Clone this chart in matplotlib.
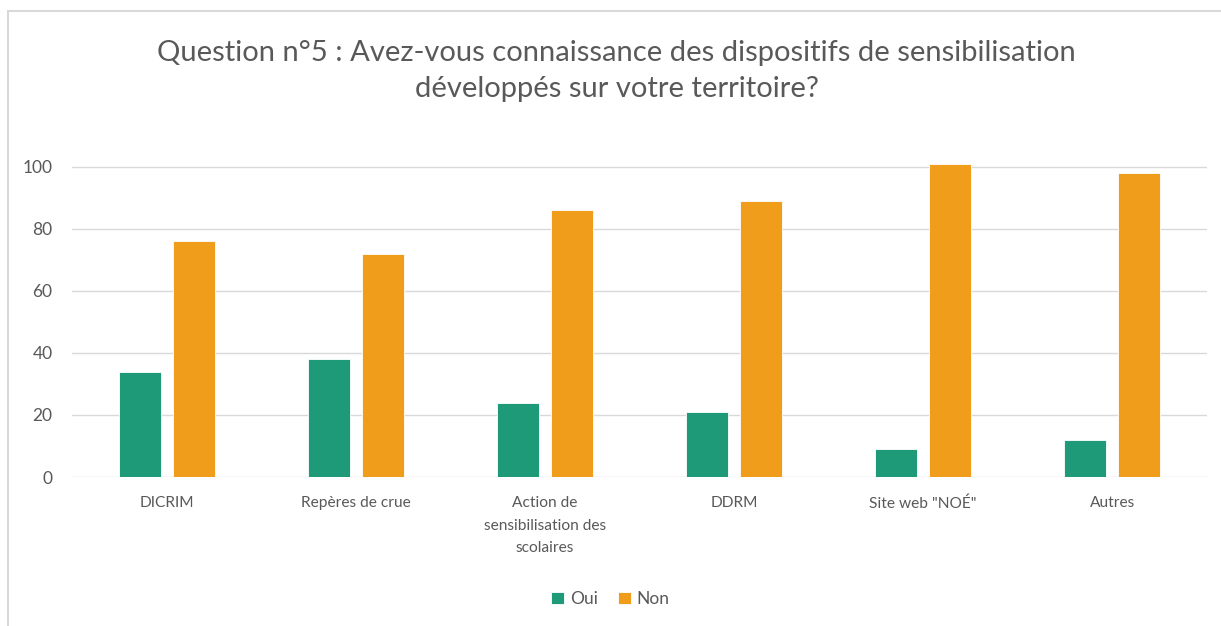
import matplotlib.pyplot as plt
import numpy as np
from matplotlib.patches import Rectangle

categories = [
    "DICRIM",
    "Repères de crue",
    "Action de\nsensibilisation des\nscolaires",
    "DDRM",
    'Site web "NOÉ"',
    "Autres",
]
oui = [34, 38, 24, 21, 9, 12]
non = [76, 72, 86, 89, 101, 98]
yticks = [0, 20, 40, 60, 80, 100]

green = "#1E9A78"
orange = "#F09D1C"
text_gray = "#595959"
grid_gray = "#D9D9D9"

plt.rcParams["font.family"] = ["Lato", "DejaVu Sans"]

fig = plt.figure(figsize=(12.21, 6.26), dpi=100)
ax = fig.add_axes([0.059, 0.238, 0.9295, 0.545])

x = np.arange(len(categories))
w = 0.222
off = 0.143
ax.bar(x - off, oui, w, color=green, edgecolor="white", linewidth=0.6, label="Oui")
ax.bar(x + off, non, w, color=orange, edgecolor="white", linewidth=0.6, label="Non")

ax.set_xlim(-0.5, len(categories) - 0.5)
ax.set_ylim(0, 110)
ax.set_yticks(yticks)
ax.set_xticks(x)
ax.set_xticklabels(categories)
ax.tick_params(axis="both", length=0, colors=text_gray, labelsize=11.2)
ax.tick_params(axis="y", pad=14, labelsize=12.5)
ax.tick_params(axis="x", pad=14)
for t in ax.get_xticklabels():
    t.set_linespacing(1.75)

ax.set_axisbelow(True)
ax.grid(axis="y", color=grid_gray, linewidth=1)
for s in ax.spines.values():
    s.set_visible(False)

fig.text(0.505, 0.887, "Question n°5 : Avez-vous connaissance des dispositifs de sensibilisation\ndéveloppés sur votre territoire?",
         ha="center", va="center", fontsize=21, color=text_gray, linespacing=1.47)

ax.legend(loc="center", bbox_to_anchor=(0.5, 0.043), bbox_transform=fig.transFigure,
          ncols=2, frameon=False, fontsize=12.5, labelcolor=text_gray,
          handlelength=0.75, handleheight=0.75, handletextpad=0.3, columnspacing=1.2)

# chart frame
fig.patches.append(Rectangle((8 / 1221, -0.1), 1.2, 1 - 11 / 626 + 0.1,
                             transform=fig.transFigure, fill=False,
                             edgecolor="#D9D9D9", linewidth=1.5))

fig.savefig("out.png", dpi=100)
